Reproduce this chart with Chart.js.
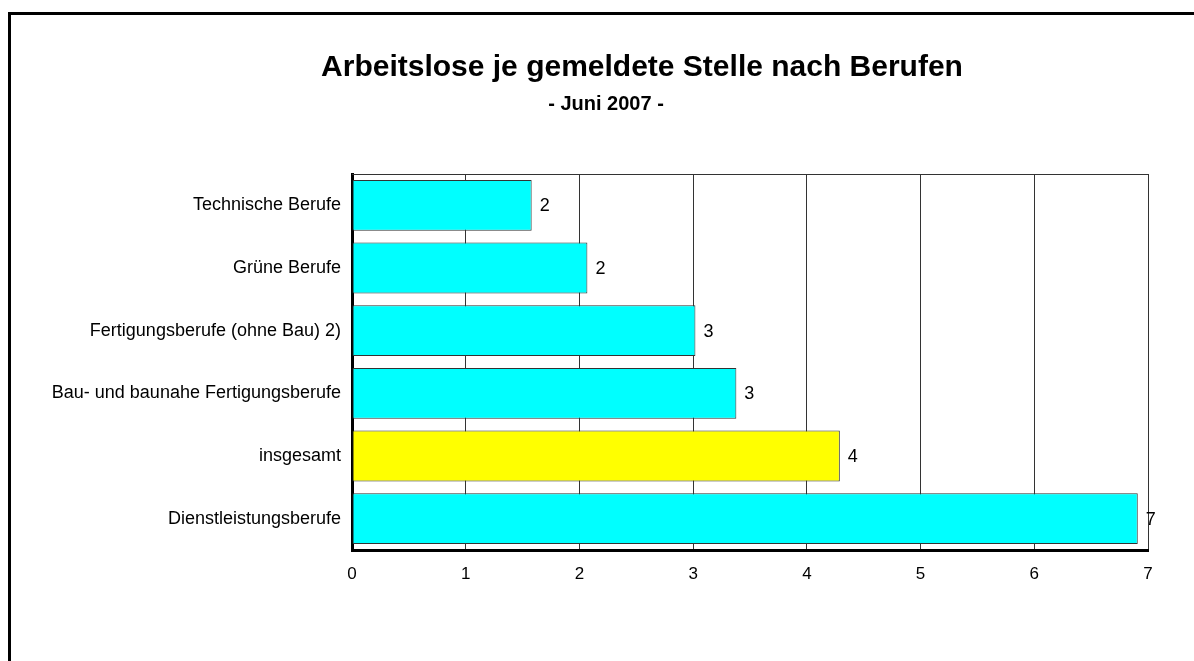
<!DOCTYPE html>
<html>
<head>
<meta charset="utf-8">
<title>Arbeitslose je gemeldete Stelle nach Berufen</title>
<script src="https://cdn.jsdelivr.net/npm/chart.js@4/dist/chart.umd.min.js"></script>
<style>
    html, body { margin: 0; padding: 0; background: #fff; overflow: hidden; }
    #wrap { position: relative; width: 1194px; height: 661px; overflow: hidden; }
    #frame { position: absolute; left: 8px; top: 12px; width: 1300px; height: 800px; border: 3px solid #000; box-sizing: border-box; }
    #berufe-chart { position: absolute; left: 0; top: 0; }
</style>
</head>
<body>
<div id="wrap">
    <div id="frame"></div>
    <canvas id="berufe-chart" width="1194" height="661"></canvas>
</div>
<script>
const title_text = 'Arbeitslose je gemeldete Stelle nach Berufen';
const subtitle_text = '- Juni 2007 -';

const categories = [
    'Technische Berufe',
    'Grüne Berufe',
    'Fertigungsberufe (ohne Bau) 2)',
    'Bau- und baunahe Fertigungsberufe',
    'insgesamt',
    'Dienstleistungsberufe'
];
const values = [1.58, 2.07, 3.02, 3.38, 4.29, 6.91];
const bar_colors = ['#00ffff', '#00ffff', '#00ffff', '#00ffff', '#ffff00', '#00ffff'];
const x_ticks = [0, 1, 2, 3, 4, 5, 6, 7];

const font_family = '"Liberation Sans", Arial, sans-serif';

// titles + top frame line + value labels
const extras_plugin = {
    id: 'extras',
    afterDatasetsDraw(chart) {
        const ctx = chart.ctx;
        const area = chart.chartArea;
        ctx.save();

        // top border of the plot box
        ctx.strokeStyle = '#333';
        ctx.lineWidth = 1;
        ctx.beginPath();
        ctx.moveTo(area.left, area.top + 0.5);
        ctx.lineTo(area.right, area.top + 0.5);
        ctx.stroke();

        // value labels next to the bars
        ctx.fillStyle = '#000';
        ctx.font = '18px ' + font_family;
        ctx.textAlign = 'left';
        ctx.textBaseline = 'middle';
        chart.getDatasetMeta(0).data.forEach((bar, i) => {
            ctx.fillText(String(Math.round(values[i])), bar.x + 8, bar.y + 1);
        });

        // titles
        ctx.textAlign = 'center';
        ctx.textBaseline = 'middle';
        ctx.font = 'bold 30px ' + font_family;
        ctx.fillText(title_text, 642, 68);
        ctx.font = 'bold 20px ' + font_family;
        ctx.fillText(subtitle_text, 606, 104);
        ctx.restore();
    }
};

const canvas = document.getElementById('berufe-chart');

new Chart(canvas, {
    type: 'bar',
    data: {
        labels: categories,
        datasets: [{
            data: values,
            backgroundColor: bar_colors,
            borderColor: '#333',
            borderWidth: 1,
            borderSkipped: false,
            categoryPercentage: 1,
            barPercentage: 0.81
        }]
    },
    options: {
        indexAxis: 'y',
        responsive: false,
        animation: false,
        devicePixelRatio: 1,
        layout: {
            padding: { top: 174, right: 46, bottom: 61, left: 0 }
        },
        scales: {
            x: {
                min: 0,
                max: 7,
                afterBuildTicks: (scale) => {
                    scale.ticks = x_ticks.map(v => ({ value: v }));
                },
                afterFit: (scale) => { scale.height = 50; },
                grid: {
                    color: '#333',
                    lineWidth: 1,
                    drawTicks: false
                },
                border: { display: true, color: '#000', width: 3 },
                ticks: {
                    color: '#000',
                    padding: 14,
                    font: { family: font_family, size: 17 }
                }
            },
            y: {
                afterFit: (scale) => { scale.width = 352; },
                grid: { display: false, drawTicks: false },
                border: { display: true, color: '#000', width: 3 },
                ticks: {
                    color: '#000',
                    padding: 11,
                    font: { family: font_family, size: 18 }
                }
            }
        },
        plugins: {
            legend: { display: false },
            title: { display: false },
            tooltip: { enabled: false }
        }
    },
    plugins: [extras_plugin]
});
</script>
</body>
</html>
